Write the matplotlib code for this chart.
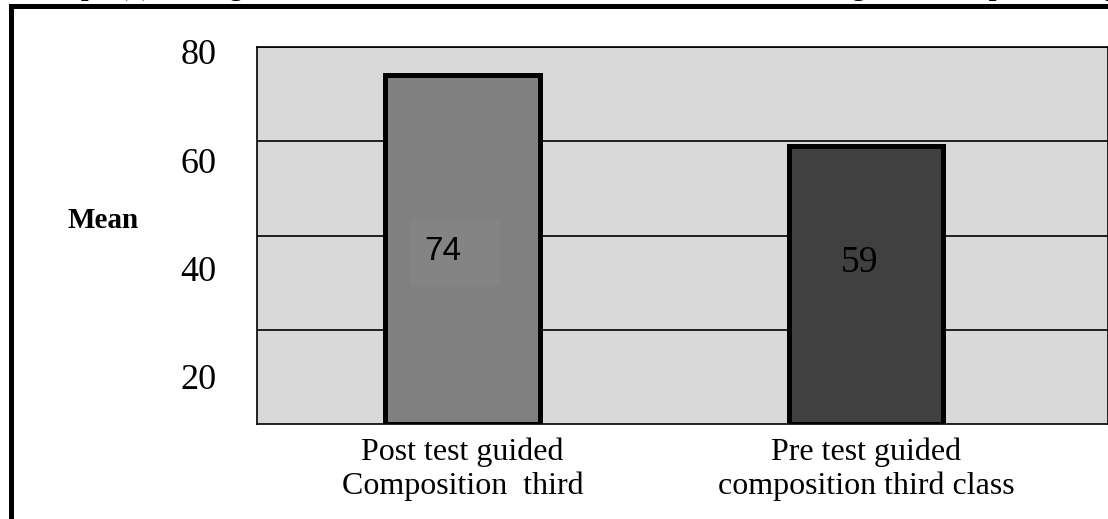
import matplotlib.pyplot as plt
from matplotlib.patches import Rectangle

# data
categories = ["Post test guided\nComposition  third", "Pre test guided\ncomposition third class"]
means = [74, 59]
bar_colors = ["#808080", "#404040"]
grid_values = [20, 40, 60, 80]
tick_labels = ["80", "60", "40", "20"]
tick_values = [80, 60, 40, 20]
title = "Graph (1) The significance of differences between the mean scores of guided composition by using the strategy"

plt.rcParams["font.family"] = ["Liberation Serif", "DejaVu Serif"]

fig = plt.figure(figsize=(11.08, 5.19), dpi=100)

# title line, only its descenders show at the top edge (cut off as in the source)
fig.text(33 / 1108, 1 + 5 / 519, title, fontsize=20, fontweight="bold",
         ha="left", va="baseline")

# main plot area
ax = fig.add_axes([257 / 1108, 1 - 424 / 519, 1 - 257 / 1108, (424 - 47) / 519])
ax.set_facecolor("#d9d9d9")
ax.set_xlim(-0.51, 1.6)
ax.set_ylim(0, 80)
for v in grid_values:
    ax.axhline(v, color="black", linewidth=1.2, zorder=1)

bars = ax.bar(range(len(means)), means, width=0.384, color=bar_colors,
              edgecolor="black", linewidth=3.6, zorder=3)

# value labels
ax.add_patch(Rectangle((-0.131, 29.5), 0.223, 13.8, facecolor="#848484",
                       edgecolor="none", zorder=4))
ax.text(-0.049, 36.7, str(means[0]), family="Liberation Sans", fontsize=24,
        ha="center", va="center", zorder=5)
ax.text(0.984, 34.2, str(means[1]), fontsize=27, ha="center", va="center", zorder=5)

ax.set_xticks(range(len(categories)))
ax.set_xticklabels(categories, fontsize=23, linespacing=1.2)
ax.tick_params(axis="x", length=0, pad=10)
ax.set_yticks([])
for side in ["left", "bottom", "top", "right"]:
    ax.spines[side].set_linewidth(1.2)

# y tick labels (placed as in the source picture)
ax2 = fig.add_axes(ax.get_position(), frameon=False)
ax2.set_xticks([])
ax2.set_ylim(11.3, 80.9)
ax2.set_yticks(tick_values)
ax2.set_yticklabels(tick_labels, fontsize=26)
ax2.tick_params(axis="y", length=0, pad=29)
ax2.patch.set_visible(False)

fig.text(103 / 1108, 1 - 220 / 519, "Mean", fontsize=21, fontweight="bold",
         ha="center", va="center")

# outer frame of the figure box
fig.patches.append(Rectangle((10.5 / 1108, -0.2), 1.2, 1 - 6 / 519 + 0.2,
                             transform=fig.transFigure, fill=False,
                             edgecolor="black", linewidth=3.6))

fig.savefig("out.png", dpi=100)
